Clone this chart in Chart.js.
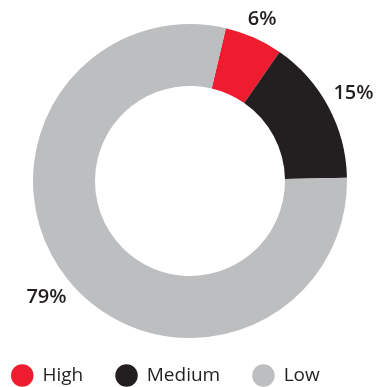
<!DOCTYPE html>
<html>
<head>
<meta charset="utf-8">
<script src="https://cdn.jsdelivr.net/npm/chart.js@4"></script>
<style>
    html, body { margin: 0; padding: 0; background: #fff; }
    #wrap { width: 377px; height: 387px; }
</style>
</head>
<body>
<div id="wrap"><canvas id="riskChart"></canvas></div>
<script>
const riskLabels = ["High", "Medium", "Low"];
const riskShares = [6, 15, 79];
const riskColors = ["#ED1C2E", "#231F20", "#BCBEC0"];

// percent labels just outside each slice
const arcLabels = {
    id: "arcLabels",
    afterDatasetsDraw(chart) {
        const ctx = chart.ctx;
        const meta = chart.getDatasetMeta(0);
        ctx.save();
        ctx.font = "600 20px 'Open Sans'";
        ctx.fillStyle = "#231F20";
        ctx.textAlign = "center";
        ctx.textBaseline = "middle";
        meta.data.forEach((arc, i) => {
            const p = arc.getProps(["x", "y", "startAngle", "endAngle", "outerRadius"], true);
            const mid = (p.startAngle + p.endAngle) / 2;
            const text = riskShares[i] + "%";
            const hw = ctx.measureText(text).width / 2;
            const cos = Math.cos(mid), sin = Math.sin(mid);
            const dist = p.outerRadius + 7 + Math.abs(cos) * hw + Math.abs(sin) * 8;
            ctx.fillText(text, p.x + cos * dist, p.y + sin * dist);
        });
        ctx.restore();
    }
};

// round dot legend along the bottom
const dotLegend = {
    id: "dotLegend",
    afterDraw(chart) {
        const ctx = chart.ctx;
        const ds = chart.data.datasets[0];
        const r = 11.25, y = 375.5;
        let x = 11;
        ctx.save();
        ctx.font = "19px 'Open Sans'";
        ctx.textBaseline = "middle";
        chart.data.labels.forEach((lab, i) => {
            ctx.fillStyle = ds.backgroundColor[i];
            ctx.beginPath();
            ctx.arc(x + r, y, r, 0, Math.PI * 2);
            ctx.fill();
            ctx.fillStyle = "#231F20";
            ctx.fillText(lab, x + 2 * r + 9, y);
            x += 2 * r + 9 + ctx.measureText(lab).width + 32;
        });
        ctx.restore();
    }
};

new Chart(document.getElementById("riskChart"), {
    type: "doughnut",
    data: {
        labels: riskLabels,
        datasets: [{
            data: riskShares,
            backgroundColor: riskColors,
            borderWidth: 0
        }]
    },
    options: {
        responsive: true,
        maintainAspectRatio: false,
        animation: false,
        rotation: 13.2,
        cutout: "60.5%",
        layout: { padding: { left: 33, right: 30, top: 24, bottom: 49 } },
        plugins: {
            legend: { display: false },
            tooltip: { enabled: false }
        }
    },
    plugins: [arcLabels, dotLegend]
});
</script>
</body>
</html>
